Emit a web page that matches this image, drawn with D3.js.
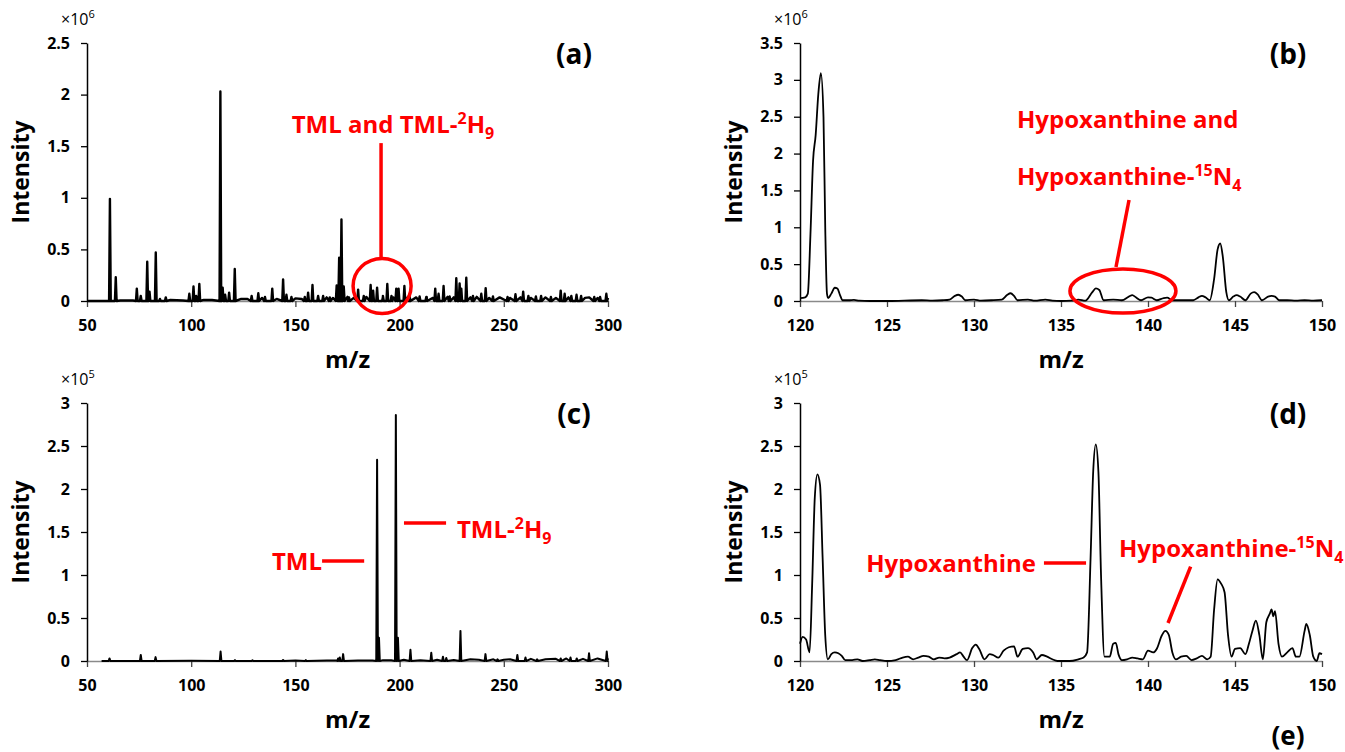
<!DOCTYPE html>
<html>
<head>
<meta charset="utf-8">
<script src="https://cdn.jsdelivr.net/npm/d3@7"></script>
<style>
  body { margin: 0; background: #fff; }
  svg { font-family: "Open Sans", sans-serif; }
</style>
</head>
<body>
<svg id="chart" width="1345" height="752"></svg>
<script>
// ---- data ----
// tick values
const xTicksWide = [50, 100, 150, 200, 250, 300];
const xTicksNarrow = [120, 125, 130, 135, 140, 145, 150];
const yTicksA = [0, 0.5, 1, 1.5, 2, 2.5];
const yTicksB = [0, 0.5, 1, 1.5, 2, 2.5, 3, 3.5];
const yTicksC = [0, 0.5, 1, 1.5, 2, 2.5, 3];

// (a) full scan, peaks [m/z, intensity x1e6]
const peaksA = [[61.0,0.99],[63.8,0.23],[73.9,0.12],[75.8,0.05],[78.9,0.38],[80,0.09],[83,0.47],[85,0.02],[87.8,0.035],
  [99.1,0.07],[101.1,0.14],[102.4,0.05],[103.9,0.165],[114.0,2.03],[115.1,0.13],[116.3,0.06],[118.2,0.08],[120.9,0.31],
  [129,0.05],[132.2,0.075],[135.4,0.04],[138.9,0.12],[144.1,0.21],[145.7,0.06],[148.1,0.04],[154.5,0.04],[156.1,0.08],
  [158.2,0.155],[160.9,0.05],[163.3,0.05],[166.5,0.035],[169.8,0.15],[171.0,0.42],[172.1,0.79],[173.2,0.14],[175.7,0.035],
  [180.1,0.11],[182.8,0.05],[186.1,0.155],[187.3,0.1],[189.2,0.13],[192,0.05],[194.1,0.165],[196.1,0.05],[198.4,0.12],
  [199.5,0.12],[202.3,0.145],[204.8,0.045],[209.6,0.045],[212.8,0.04],[217.1,0.12],[218.7,0.07],[221.1,0.145],[224,0.045],
  [227.2,0.22],[228.8,0.17],[229.6,0.12],[232,0.225],[235.2,0.05],[239.2,0.07],[241.3,0.125],[244.8,0.045],[251.8,0.04],
  [255.6,0.065],[259.3,0.09],[261.8,0.05],[265.4,0.045],[267.9,0.05],[272.6,0.04],[277.3,0.1],[279.2,0.07],[282.4,0.05],
  [284.9,0.06],[287.1,0.05],[293.4,0.04],[296.2,0.04],[299.2,0.07]];
const baseA = [[50,0],[59,0],[66,0.005],[72,0.005],[85,0.02],[90,0.01],[96,0.005],[106,0.01],[110,0.01],[124,0.02],[127,0.02],
  [134,0.03],[141,0.02],[150,0.025],[153,0.02],[165,0.035],[168,0.03],[175,0.04],[178,0.03],[184,0.04],[192,0.04],[197,0.035],
  [204,0.04],[208,0.035],[213,0.04],[216,0.03],[223,0.04],[226,0.035],[234,0.035],[237,0.04],[243,0.03],[248,0.035],[253,0.03],
  [258,0.035],[263,0.03],[270,0.035],[275,0.03],[281,0.035],[289,0.03],[291,0.035],[295,0.03],[300,0.03]];

// (b) zoomed scan 120-150, [m/z, intensity x1e6]
const traceB = [[120,0.04],[120.3,0.05],[120.45,0.1],[120.6,0.9],[120.75,1.9],[120.9,2.25],[121.05,2.8],[121.2,3.09],[121.35,2.5],
  [121.45,1.0],[121.55,0.1],[121.62,0.04],[121.8,0.1],[122.0,0.18],[122.15,0.17],[122.3,0.08],[122.45,0.01],[122.8,0.01],
  [123.1,0.015],[123.4,0.005],[124,0],[125,0],[126,0.005],[127,0.01],[127.6,0.005],[128.2,0.01],[128.6,0.02],[128.9,0.07],
  [129.1,0.085],[129.3,0.06],[129.5,0.01],[130.0,0.02],[130.4,0.005],[131,0.01],[131.6,0.02],[131.9,0.08],[132.1,0.105],
  [132.3,0.07],[132.5,0.01],[133.1,0.02],[133.5,0.005],[134.1,0.02],[134.5,0.005],[135,0],[135.6,0.005],[136.0,0.02],
  [136.4,0.005],[136.8,0.12],[137.0,0.17],[137.2,0.15],[137.45,0.01],[138.0,0.02],[138.5,0.01],[138.9,0.06],[139.1,0.08],
  [139.3,0.05],[139.6,0.01],[140.0,0.05],[140.2,0.045],[140.5,0.01],[140.9,0.04],[141.1,0.045],[141.4,0.01],[142,0.01],
  [142.6,0.01],[142.9,0.05],[143.1,0.07],[143.3,0.05],[143.55,0.01],[143.8,0.3],[144.0,0.7],[144.15,0.78],[144.3,0.6],
  [144.5,0.12],[144.65,0.01],[144.9,0.06],[145.1,0.08],[145.3,0.06],[145.6,0.01],[145.9,0.1],[146.1,0.12],[146.3,0.09],
  [146.55,0.01],[146.9,0.06],[147.1,0.07],[147.3,0.06],[147.55,0.01],[148,0.01],[148.5,0.005],[149,0.01],[149.5,0.005],[150,0.01]];

// (c) full scan, peaks [m/z, intensity x1e5]
const peaksC = [[60.8,0.03],[75.8,0.07],[82.9,0.045],[114.1,0.11],[121,0.01],[129.4,0.008],[144.1,0.012],[155,0.01],
  [170.5,0.03],[171.3,0.04],[172.9,0.08],[189.2,2.34],[190.1,0.27],[198.2,2.86],[199.2,0.27],[205.2,0.13],[215.2,0.095],
  [220.8,0.05],[222.4,0.035],[229.2,0.35],[241.2,0.08],[247,0.02],[256.5,0.07],[260.4,0.04],[266,0.02],[277.3,0.03],
  [282,0.04],[285,0.03],[290.9,0.09],[299.4,0.11]];
const baseC = [[57,0],[100,0.003],[150,0.006],[170,0.01],[180,0.005],[187,0.005],[192,0.01],[196,0.008],[202,0.015],
  [210,0.01],[218,0.015],[226,0.012],[234,0.02],[238,0.015],[245,0.02],[250,0.015],[253,0.02],[263,0.025],[270,0.02],
  [275,0.025],[280,0.03],[288,0.025],[295,0.03],[300,0.03]];

// (d) zoomed scan 120-150, [m/z, intensity x1e5]
const traceD = [[120.0,0.2],[120.15,0.28],[120.35,0.25],[120.55,0.1],[120.7,0.9],[120.85,1.9],[121.0,2.17],[121.15,2.05],
  [121.3,1.2],[121.45,0.3],[121.6,0.02],[121.8,0.08],[122.0,0.1],[122.2,0.09],[122.4,0.06],[122.6,0.01],[123,0.01],
  [123.3,0.02],[123.6,0],[124,0.01],[124.3,0.02],[124.6,0.01],[125,0],[125.5,0.01],[125.9,0.04],[126.2,0.05],[126.5,0.02],
  [126.8,0.04],[127.1,0.06],[127.4,0.05],[127.7,0.02],[128,0.04],[128.3,0.03],[128.6,0.04],[129.0,0.08],[129.2,0.1],
  [129.4,0.05],[129.6,0.01],[129.9,0.15],[130.1,0.19],[130.3,0.14],[130.6,0.02],[130.9,0.08],[131.1,0.07],[131.4,0.04],
  [131.7,0.12],[132.0,0.16],[132.3,0.17],[132.5,0.05],[132.8,0.14],[133.1,0.15],[133.4,0.1],[133.6,0.02],[133.9,0.07],
  [134.2,0.05],[134.5,0.02],[134.8,0],[135.5,0],[136.0,0.02],[136.3,0.04],[136.5,0.1],[136.7,1.2],[136.85,2.2],[137.0,2.52],
  [137.15,2.2],[137.3,1.0],[137.5,0.05],[137.8,0.05],[138.0,0.2],[138.15,0.21],[138.3,0.08],[138.5,0.01],[138.8,0.02],
  [139.1,0.04],[139.4,0.03],[139.7,0.02],[140.0,0.12],[140.3,0.1],[140.5,0.14],[140.8,0.3],[141.0,0.35],[141.2,0.3],
  [141.4,0.1],[141.6,0.02],[141.9,0.05],[142.2,0.06],[142.5,0.01],[142.8,0.03],[143.1,0.06],[143.4,0.02],[143.6,0.05],
  [143.8,0.6],[144.0,0.95],[144.2,0.9],[144.4,0.8],[144.6,0.3],[144.8,0.05],[145.0,0.14],[145.3,0.15],[145.6,0.08],
  [145.8,0.2],[146.0,0.35],[146.2,0.47],[146.4,0.3],[146.6,0.02],[146.8,0.45],[147.0,0.55],[147.1,0.6],[147.2,0.52],
  [147.3,0.58],[147.5,0.2],[147.7,0.05],[148.0,0.1],[148.3,0.15],[148.5,0.05],[148.7,0.05],[149.0,0.35],[149.1,0.43],
  [149.3,0.3],[149.5,0.05],[149.7,0],[149.85,0.09],[150.0,0.08]];

// turn a stick list into a drawable trace (each peak a narrow spike on the baseline)
function stickTrace(peaks, base, hw) {
  const pts = base.map(d => [d[0], d[1]]);
  peaks.forEach(([m, h]) => pts.push([m - hw, 0], [m, h], [m + hw, 0]));
  return pts.sort((a, b) => a[0] - b[0]);
}

const RED = '#ff0000';
const svg = d3.select('#chart');

const panels = [
  { left: 87, right: 608, top: 43, bottom: 301, xDomain: [50, 300], xTicks: xTicksWide,
    yDomain: [0, 2.5], yTicks: yTicksA, exp: '6', label: '(a)', lw: 2.4,
    points: stickTrace(peaksA, baseA, 0.4), curve: d3.curveLinear },
  { left: 800, right: 1322, top: 43, bottom: 301, xDomain: [120, 150], xTicks: xTicksNarrow,
    yDomain: [0, 3.5], yTicks: yTicksB, exp: '6', label: '(b)', lw: 1.8,
    points: traceB, curve: d3.curveMonotoneX },
  { left: 87, right: 608, top: 403, bottom: 661, xDomain: [50, 300], xTicks: xTicksWide,
    yDomain: [0, 3], yTicks: yTicksC, exp: '5', label: '(c)', lw: 2,
    points: stickTrace(peaksC, baseC, 0.4), curve: d3.curveLinear },
  { left: 800, right: 1322, top: 403, bottom: 661, xDomain: [120, 150], xTicks: xTicksNarrow,
    yDomain: [0, 3], yTicks: yTicksC, exp: '5', label: '(d)', lw: 1.8,
    points: traceD, curve: d3.curveMonotoneX }
];

function styleAxisText(g) {
  g.attr('font-family', '"Open Sans", sans-serif').attr('font-size', 16).attr('font-weight', 'bold');
  g.selectAll('.tick text').attr('fill', '#000');
}

panels.forEach(p => {
  const x = d3.scaleLinear().domain(p.xDomain).range([p.left, p.right]);
  const y = d3.scaleLinear().domain(p.yDomain).range([p.bottom, p.top]);
  p.x = x; p.y = y;
  const g = svg.append('g');

  const gx = g.append('g').attr('transform', `translate(0,${p.bottom})`)
    .call(d3.axisBottom(x).tickValues(p.xTicks).tickSize(6).tickSizeOuter(0).tickPadding(13));
  gx.select('.domain').attr('stroke', '#8a8a8a').attr('stroke-width', 1.5);
  gx.selectAll('.tick line').attr('stroke', '#444').attr('stroke-width', 1.3);
  styleAxisText(gx);

  const gy = g.append('g').attr('transform', `translate(${p.left},0)`)
    .call(d3.axisLeft(y).tickValues(p.yTicks).tickSize(6).tickSizeOuter(0).tickPadding(11)
      .tickFormat(d => String(d)));
  gy.select('.domain').attr('stroke', '#000').attr('stroke-width', 1.5);
  gy.selectAll('.tick line').attr('stroke', '#000').attr('stroke-width', 1.3);
  styleAxisText(gy);

  const line = d3.line().x(d => x(d[0])).y(d => y(d[1])).curve(p.curve);
  g.append('path').datum(p.points)
    .attr('d', line)
    .attr('fill', 'none')
    .attr('stroke', '#000')
    .attr('stroke-width', p.lw)
    .attr('stroke-linejoin', 'round');

  // exponent note
  const ex = g.append('text').attr('x', p.left - 26).attr('y', p.top - 18)
    .attr('font-size', 16).attr('fill', '#000');
  ex.append('tspan').text('×10');
  ex.append('tspan').attr('font-size', 11).attr('dy', -7).text(p.exp);

  // axis titles
  g.append('text')
    .attr('transform', `translate(${p.left - 58},${(p.top + p.bottom) / 2}) rotate(-90)`)
    .attr('text-anchor', 'middle').attr('font-size', 23).attr('font-weight', 'bold')
    .text('Intensity');
  g.append('text')
    .attr('x', (p.left + p.right) / 2).attr('y', p.bottom + 67)
    .attr('text-anchor', 'middle').attr('font-size', 24).attr('font-weight', 'bold')
    .text('m/z');

  // panel letter
  g.append('text').attr('x', p.right - 34).attr('y', p.top + 21)
    .attr('text-anchor', 'middle').attr('font-size', 28).attr('font-weight', 'bold')
    .text(p.label);
});

// the "(e)" of the next figure part, sitting at the lower edge as in the source
svg.append('text').attr('x', 1288).attr('y', 745)
  .attr('text-anchor', 'middle').attr('font-size', 26).attr('font-weight', 'bold')
  .text('(e)');

// ---- red annotations (placed in data units of each panel) ----
function redText(p, mz, v, anchor, parts) {
  const t = svg.append('text').attr('x', p.x(mz)).attr('y', p.y(v))
    .attr('text-anchor', anchor).attr('fill', RED).attr('font-size', 24).attr('font-weight', 'bold');
  let shift = 0;
  parts.forEach(([s, kind]) => {
    const target = kind === 'sup' ? -9 : kind === 'sub' ? 6 : 0;
    t.append('tspan').attr('dy', target - shift)
      .attr('font-size', kind ? 16 : 24).text(s);
    shift = target;
  });
}
function redLine(p, m1, v1, m2, v2) {
  svg.append('line')
    .attr('x1', p.x(m1)).attr('y1', p.y(v1)).attr('x2', p.x(m2)).attr('y2', p.y(v2))
    .attr('stroke', RED).attr('stroke-width', 3.5);
}
function redEllipse(p, mz, v, rx, ry) {
  svg.append('ellipse').attr('cx', p.x(mz)).attr('cy', p.y(v)).attr('rx', rx).attr('ry', ry)
    .attr('fill', 'none').attr('stroke', RED).attr('stroke-width', 3.5);
}

const [pa, pb, pc, pd] = panels;
redText(pa, 196.8, 1.63, 'middle', [['TML and TML-'], ['2', 'sup'], ['H'], ['9', 'sub']]);
redLine(pa, 191.1, 1.53, 191.1, 0.417);
redEllipse(pa, 191.6, 0.145, 29, 27.5);

redText(pb, 132.47, 2.347, 'start', [['Hypoxanthine and']]);
redText(pb, 132.47, 1.574, 'start', [['Hypoxanthine-'], ['15', 'sup'], ['N'], ['4', 'sub']]);
redLine(pb, 138.91, 1.37, 138.16, 0.461);
redEllipse(pb, 138.56, 0.136, 53, 22);

redText(pc, 162.8, 1.058, 'end', [['TML']]);
redLine(pc, 162.8, 1.163, 183.0, 1.163);
redText(pc, 227.5, 1.43, 'start', [['TML-'], ['2', 'sup'], ['H'], ['9', 'sub']]);
redLine(pc, 202.1, 1.605, 222.3, 1.605);

redText(pd, 133.56, 1.035, 'end', [['Hypoxanthine']]);
redLine(pd, 134.02, 1.14, 136.44, 1.14);
redText(pd, 138.33, 1.209, 'start', [['Hypoxanthine-'], ['15', 'sup'], ['N'], ['4', 'sub']]);
redLine(pd, 142.45, 1.097, 141.15, 0.442);
</script>
</body>
</html>
